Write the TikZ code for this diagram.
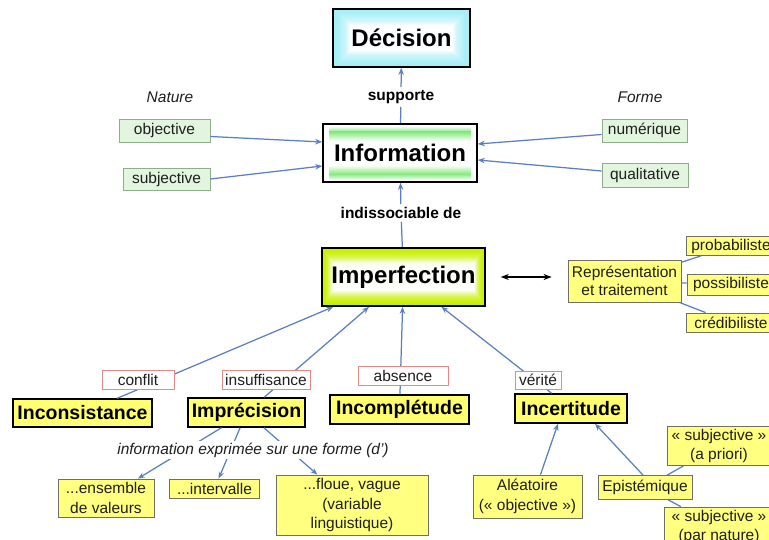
\documentclass[tikz,border=0pt]{standalone}
\usepackage{fontspec}
\setmainfont{Liberation Sans}
\usetikzlibrary{arrows.meta,calc}
\definecolor{arrowblue}{HTML}{5B80C2}
\definecolor{gfill}{HTML}{E2F5DE}
\definecolor{gdraw}{HTML}{8EAE8A}
\definecolor{yfill}{HTML}{FFFF80}
\definecolor{ybold}{HTML}{FFFF70}
\definecolor{ydraw}{HTML}{707060}
\definecolor{rdraw}{HTML}{E08A8A}
\definecolor{decc}{HTML}{A6EEF7}
\definecolor{impc}{HTML}{C8F000}
\definecolor{infog}{HTML}{86EA80}
\definecolor{txtc}{HTML}{1E1E1E}
\tikzset{
  txt/.style={font=\fontsize{15.5}{19.5}\selectfont, align=center, text=txtc},
  gbox/.style={txt, draw=gdraw, fill=gfill, inner sep=0pt, line width=0.8pt},
  ybox/.style={txt, draw=ydraw, fill=yfill, inner sep=0pt, line width=0.8pt},
  bbox/.style={draw=black, fill=ybold, line width=1.4pt, inner sep=0pt,
    font=\bfseries\fontsize{19.5}{22}\selectfont},
  lbox/.style={txt, draw=rdraw, fill=white, inner sep=0pt, line width=0.7pt},
  boldlbl/.style={font=\bfseries\fontsize{15.5}{18}\selectfont, inner sep=3pt},
  itlbl/.style={font=\itshape\fontsize{15.5}{18}\selectfont, text=txtc},
  arr/.style={draw=arrowblue, line width=1.25pt, -{Stealth[length=7pt,width=5.5pt]}},
  lnk/.style={draw=arrowblue, line width=1.25pt},
  dbl/.style={draw=black, line width=1.4pt, {Stealth[length=8pt,width=6pt]}-{Stealth[length=8pt,width=6pt]}},
  glow/.style n args={3}{draw=black, line width=1.6pt, inner sep=0pt,
    font=\bfseries\fontsize{24}{28}\selectfont,
    path picture={
      \fill[white] (path picture bounding box.south west) rectangle (path picture bounding box.north east);
      \foreach \i in {0,...,15}{
        \pgfmathtruncatemacro\p{100-\i*\i*0.43}
        \fill[#1!\p!white] ($(path picture bounding box.north west)+(\i*#2,-\i*#3)$)
          rectangle ($(path picture bounding box.south east)+(-\i*#2,\i*#3)$);
      }}},
  infoglow/.style={draw=black, line width=1.6pt, inner sep=0pt,
    font=\bfseries\fontsize{24}{28}\selectfont,
    path picture={
      \fill[white] (path picture bounding box.south west) rectangle (path picture bounding box.north east);
      \shade[top color=white, bottom color=infog]
        ($(path picture bounding box.north west)+(6pt,-2pt)$) rectangle ($(path picture bounding box.north east)+(-6pt,-8pt)$);
      \shade[top color=infog, bottom color=white]
        ($(path picture bounding box.north west)+(6pt,-8pt)$) rectangle ($(path picture bounding box.north east)+(-6pt,-17pt)$);
      \shade[top color=infog, bottom color=white]
        ($(path picture bounding box.south west)+(6pt,8pt)$) rectangle ($(path picture bounding box.south east)+(-6pt,2pt)$);
      \shade[top color=white, bottom color=infog]
        ($(path picture bounding box.south west)+(6pt,17pt)$) rectangle ($(path picture bounding box.south east)+(-6pt,8pt)$);
    }},
}
\begin{document}
\begin{tikzpicture}[x=1pt,y=-1pt]
\clip (0,0) rectangle (769,540);
\fill[white] (0,0) rectangle (769,540);

% main concepts
\node[glow={decc}{1.15pt}{1.05pt}, minimum width=137, minimum height=58] (dec) at (401.5,38) {Décision};
\node[infoglow, minimum width=154, minimum height=58] (info) at (400,153) {Information};
\node[glow={impc}{0.7pt}{1.0pt}, minimum width=163, minimum height=58] (imp) at (403.5,277) {Imperfection};

\node[boldlbl] (sup) at (401,97) {supporte};
\node[boldlbl] (ind) at (401,213) {indissociable de};
\draw[lnk] (info) -- (sup);
\draw[arr] (sup) -- (dec);
\draw[lnk] (imp) -- (ind);
\draw[arr] (ind) -- (info);

% nature / forme
\node[itlbl] (nat) at (170,97) {Nature};
\node[itlbl] (for) at (640,97) {Forme};
\node[gbox, minimum width=91, minimum height=23] (obj) at (164.5,130.5) {objective};
\node[gbox, minimum width=87, minimum height=22] (subj) at (166.5,179) {subjective};
\node[gbox, minimum width=85, minimum height=23] (num) at (644.5,130.5) {numérique};
\node[gbox, minimum width=86, minimum height=24] (qual) at (645,175) {qualitative};
\draw[arr] ($(obj.east)+(0,6)$) -- ($(info.west)+(0,-11)$);
\draw[arr] (subj.east) -- ($(info.west)+(0,13)$);
\draw[arr] ($(num.west)+(0,4)$) -- ($(info.east)+(0,-9)$);
\draw[arr] ($(qual.west)+(0,-4)$) -- ($(info.east)+(0,7)$);

% representation
\node[ybox, minimum width=113, minimum height=42] (rep) at (624.5,281) {Représentation\\[-2pt]et traitement};
\node[ybox, minimum width=90, minimum height=19] (prob) at (731,246) {probabiliste};
\node[ybox, minimum width=88, minimum height=21] (poss) at (731,284.5) {possibiliste};
\node[ybox, minimum width=90, minimum height=19] (cred) at (731,322.5) {crédibiliste};
\draw[lnk] (rep) -- (prob);
\draw[lnk] (rep) -- (poss);
\draw[lnk] (rep) -- (cred);
\draw[dbl, shorten <=15pt, shorten >=16pt] (imp.east) -- (imp.east -| rep.west);

% types of imperfection
\node[bbox, minimum width=139, minimum height=28] (incons) at (82.5,413) {Inconsistance};
\node[bbox, minimum width=117, minimum height=29] (impr) at (246.5,412.5) {Imprécision};
\node[bbox, minimum width=139, minimum height=29] (incompl) at (399.5,409.5) {Incomplétude};
\node[bbox, minimum width=112, minimum height=29] (incert) at (571,408.5) {Incertitude};
\draw[arr] (incons) -- (imp);
\draw[arr] (impr) -- (imp);
\draw[arr] (incompl) -- (imp);
\draw[arr] (incert) -- (imp);
\node[lbox, minimum width=72, minimum height=19] (conf) at (138,379.5) {conflit};
\node[lbox, minimum width=88, minimum height=19] (insuf) at (266,379.5) {insuffisance};
\node[lbox, minimum width=90, minimum height=19] (abs) at (403,375.5) {absence};
\node[lbox, minimum width=46, minimum height=18] (ver) at (538,380) {vérité};

% imprecision forms
\node[ybox, minimum width=96, minimum height=38] (ens) at (106,498) {...ensemble\\de valeurs};
\node[ybox, minimum width=90, minimum height=19] (intv) at (214.5,488.5) {...intervalle};
\node[ybox, minimum width=152, minimum height=60] (floue) at (352,505) {...floue, vague\\(variable\\linguistique)};
\draw[arr] (impr) -- (ens);
\draw[arr] (impr) -- (intv);
\draw[arr] (impr) -- (floue);
\node[itlbl, fill=white, inner sep=2pt] (infx) at (253,450) {information exprimée sur une forme (d')};

% incertitude kinds
\node[ybox, minimum width=109, minimum height=43] (alea) at (527.5,496.5) {Aléatoire\\(« objective »)};
\node[ybox, minimum width=94, minimum height=24] (epi) at (645,487.5) {Epistémique};
\node[ybox, minimum width=104, minimum height=39] (apri) at (719,446) {« subjective »\\(a priori)};
\node[ybox, minimum width=110, minimum height=40] (pnat) at (719,527) {« subjective »\\(par nature)};
\draw[arr] ($(alea.north)+(13,0)$) -- ($(incert.south)+(-13,0)$);
\draw[arr] ($(epi.north)+(-2,0)$) -- ($(incert.south)+(24,0)$);
\draw[lnk] (epi) -- (apri);
\draw[lnk] (epi) -- (pnat);
\end{tikzpicture}
\end{document}
